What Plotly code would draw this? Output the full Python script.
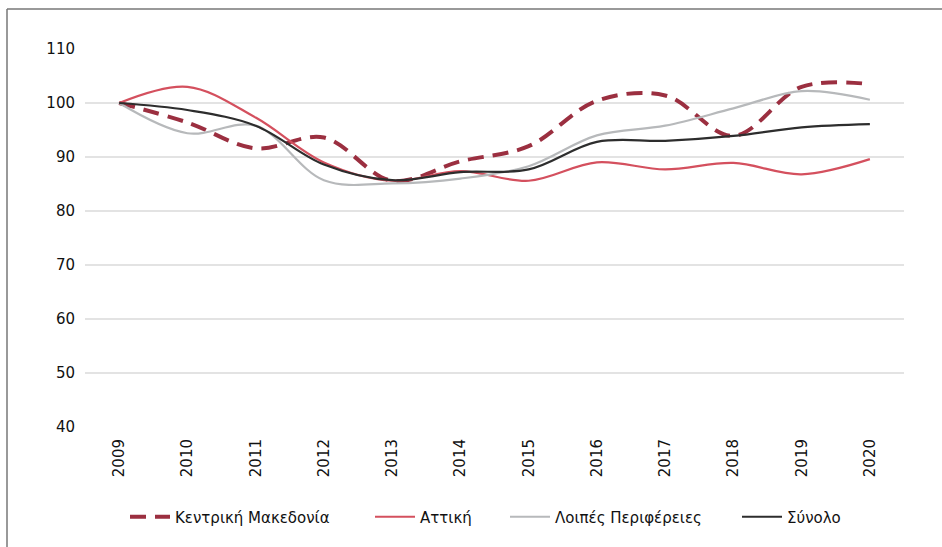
import plotly.graph_objects as go

years = ["2009", "2010", "2011", "2012", "2013", "2014", "2015", "2016", "2017", "2018", "2019", "2020"]

kentriki_makedonia = [100.0, 96.4, 91.6, 93.6, 85.6, 89.2, 92.0, 100.4, 101.4, 93.9, 103.0, 103.5]
attiki = [100.0, 103.0, 97.3, 89.0, 85.6, 87.4, 85.6, 89.0, 87.7, 88.9, 86.8, 89.6]
loipes_perifereies = [100.0, 94.4, 95.8, 85.7, 85.1, 86.0, 88.3, 94.0, 95.8, 99.0, 102.2, 100.6]
synolo = [100.0, 98.7, 95.8, 88.6, 85.7, 87.2, 87.7, 92.8, 93.0, 93.9, 95.5, 96.1]

y_ticks = [40, 50, 60, 70, 80, 90, 100, 110]

series = [
    ("Κεντρική Μακεδονία", kentriki_makedonia, "#9b2f40", 4, "16px,9px"),
    ("Αττική", attiki, "#d4505e", 2.2, "solid"),
    ("Λοιπές Περιφέρειες", loipes_perifereies, "#b7b9bb", 2.2, "solid"),
    ("Σύνολο", synolo, "#2d2d2d", 2.2, "solid"),
]
legend_ids = ["legend", "legend2", "legend3", "legend4"]
legend_px = [130, 375, 510, 742]  # left edge of each legend symbol (pixels)

W, H = 942, 547
L, R, T, B = 85, 38, 49, 120
pw, ph = W - L - R, H - T - B

fig = go.Figure()
for (name, vals, color, width, dash), lid in zip(series, legend_ids):
    fig.add_trace(go.Scatter(
        x=years, y=vals, name=name, mode="lines", legend=lid,
        line=dict(color=color, width=width, dash=dash, shape="spline", smoothing=1.0),
    ))

leg_y = -(517 - (H - B)) / ph
legend_common = dict(orientation="h", xanchor="left", yanchor="middle", y=leg_y,
                     font=dict(size=15, family="DejaVu Sans", color="#111111"),
                     itemwidth=40, bgcolor="rgba(0,0,0,0)", borderwidth=0)
layout_legends = {}
for lid, px in zip(legend_ids, legend_px):
    layout_legends[lid] = dict(legend_common, x=(px - 5 - L) / pw)

fig.update_layout(
    width=W, height=H,
    margin=dict(l=L, r=R, t=T, b=B),
    paper_bgcolor="white", plot_bgcolor="white",
    font=dict(family="DejaVu Sans", color="#111111", size=15),
    showlegend=True,
    xaxis=dict(type="category", range=[-0.5, 11.5], showgrid=False, showline=False, zeroline=False,
               tickangle=-90, ticks="", tickfont=dict(size=15), ticklabelstandoff=8),
    yaxis=dict(range=[40, 110], tickvals=y_ticks, showgrid=True, gridcolor="#e3e3e3", gridwidth=1.5,
               zeroline=False, showline=False, ticks="", tickfont=dict(size=15), ticklabelstandoff=9),
    **layout_legends,
)

# outer frame (top and left edges visible)
x_left = (7 - L) / pw
y_top = (H - B - 9) / ph
fig.add_shape(type="line", xref="paper", yref="paper", x0=x_left, x1=(W + 20 - L) / pw, y0=y_top, y1=y_top,
              line=dict(color="#777777", width=1.5))
fig.add_shape(type="line", xref="paper", yref="paper", x0=x_left, x1=x_left, y0=y_top, y1=-(B + 20) / ph,
              line=dict(color="#777777", width=1.5))

fig.write_html("out.html", config={"displayModeBar": False},
               post_script="document.body.style.margin='0';")
